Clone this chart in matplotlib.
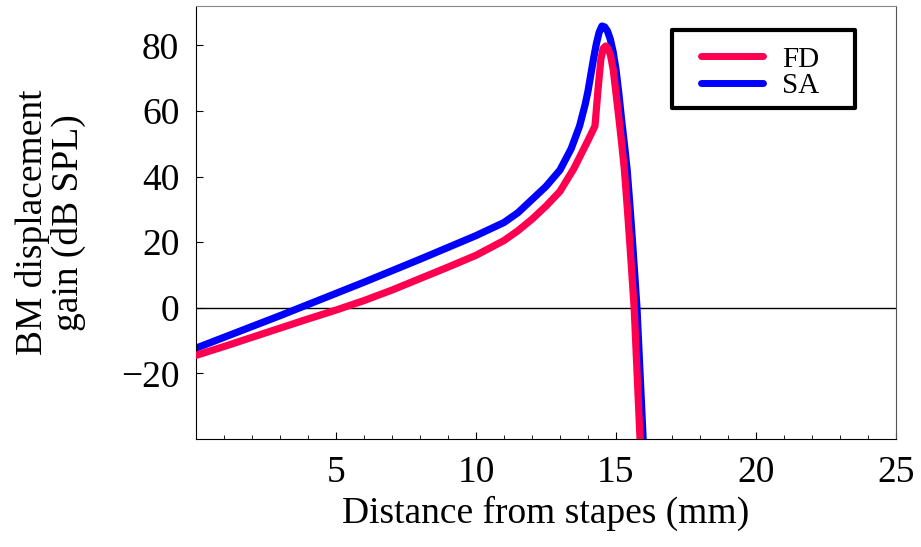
import matplotlib.pyplot as plt
from matplotlib.patches import Rectangle

plt.rcParams['font.family'] = ['Liberation Serif', 'DejaVu Serif']

# BM displacement gain along the cochlea
sa_x = [0, 1, 2, 3, 4, 5, 6, 7, 8, 9, 10, 11, 11.5, 12, 12.5, 13, 13.4, 13.7,
        13.9, 14.0, 14.1, 14.2, 14.3, 14.4, 14.5, 14.6, 14.7, 14.8, 14.9, 15.0,
        15.1, 15.2, 15.3, 15.4, 15.5, 15.6, 15.75, 15.97]
sa_y = [-12.3, -9.0, -5.7, -2.4, 1.0, 4.4, 7.8, 11.3, 14.8, 18.4, 22.0, 26.0,
        29.0, 33.0, 37.0, 42.0, 48.5, 55.4, 62.0, 66.0, 71.0, 76.0, 80.5, 84.0,
        85.9, 85.6, 84.3, 81.8, 78.0, 72.7, 65.5, 57.4, 50.0, 42.0, 31.0, 19.0,
        0.0, -40]

fd_x = [0, 1, 2, 3, 4, 5, 6, 7, 8, 9, 10, 11, 11.5, 12, 12.5, 13, 13.5, 14.0,
        14.25, 14.37, 14.46, 14.54, 14.63, 14.7, 14.8, 14.9, 15.0, 15.11, 15.2,
        15.3, 15.4, 15.5, 15.65, 15.86]
fd_y = [-14.5, -11.8, -9.0, -6.2, -3.4, -0.7, 2.2, 5.4, 8.9, 12.4, 16.0, 20.5,
        23.5, 27.0, 31.0, 35.5, 42.5, 51.0, 55.4, 67.6, 75.7, 79.0, 79.8, 79.3,
        77.2, 72.7, 65.5, 57.4, 50.5, 42.1, 31.0, 19.0, 0.0, -40]

xticks = [5, 10, 15, 20, 25]
yticks = [-20, 0, 20, 40, 60, 80]

fig = plt.figure(figsize=(9.21, 5.47), dpi=100)
ax = fig.add_axes([0.2128, 0.1974, 0.76, 0.7916])

ax.axhline(0, color='black', lw=1.0, zorder=1)
ax.plot(fd_x, fd_y, color='#FF0050', lw=5.2, solid_capstyle='round',
        solid_joinstyle='round', label='FD', zorder=3)
ax.plot(sa_x, sa_y, color='#0000FF', lw=5.2, solid_capstyle='round',
        solid_joinstyle='round', label='SA', zorder=2)

ax.set_xlim(0, 25)
ax.set_ylim(-40, 92)
ax.set_xticks(xticks)
ax.set_xticks(range(0, 26), minor=True)
ax.set_yticks(yticks)
ax.tick_params(axis='both', which='both', direction='in', labelsize=27)
ax.tick_params(axis='x', which='major', length=5, pad=12)
ax.tick_params(axis='x', which='minor', length=3)
ax.tick_params(axis='y', which='major', length=5, pad=12)

ax.spines['top'].set_color('#888888')
ax.spines['right'].set_color('#555555')
ax.spines['left'].set_color('black')
ax.spines['bottom'].set_color('black')

ax.set_xlabel('Distance from stapes (mm)', fontsize=27, labelpad=4)
ax.set_ylabel('BM displacement\ngain (dB SPL)', fontsize=27, labelpad=25,
              linespacing=1.05)

# legend entries without frame, box drawn separately (wider side padding)
leg = ax.legend(loc='center', bbox_to_anchor=(0.806, 0.846), fontsize=21,
                frameon=False, handlelength=2.1, labelspacing=0.0,
                handletextpad=0.65, borderpad=0, borderaxespad=0)
for line in leg.get_lines():
    line.set_linewidth(5)
ax.add_patch(Rectangle((0.68, 0.7644), 0.2614, 0.180, transform=ax.transAxes,
                       fill=False, edgecolor='black', lw=3,
                       joinstyle='round', zorder=5))

fig.savefig('out.png', dpi=100)
